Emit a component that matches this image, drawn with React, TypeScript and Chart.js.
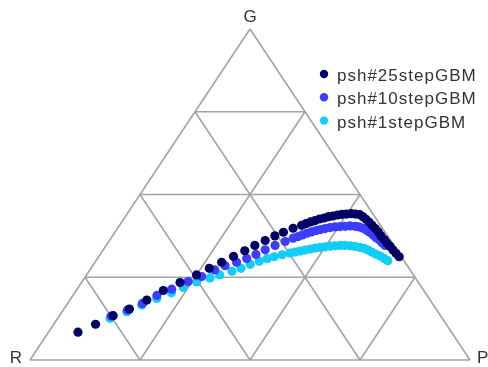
import { useEffect, useRef } from 'react';
import { Chart, registerables } from 'chart.js';

Chart.register(...registerables);

// Ternary compositions in percent: G (top vertex) and P (right vertex); R = 100 - G - P
const seriesNames = ['psh#25stepGBM', 'psh#10stepGBM', 'psh#1stepGBM'];
const seriesColors = ['#000066', '#3d3dff', '#12cdf6'];
const vertexLabels = ['R', 'G', 'P'];
const gridLevels = [25, 50, 75];

const gVals25 = [8.4, 10.8, 13.4, 15.4, 18.1, 21.0, 23.4, 25.7, 27.7, 29.5, 31.3, 33.0, 34.6, 36.1, 37.5, 38.6, 39.8, 40.7, 41.2, 41.7, 42.1, 42.6, 42.9, 43.3, 43.5, 43.8, 44.0, 44.1, 44.2, 44.1, 43.9, 43.3, 42.5, 41.6, 40.7, 39.7, 38.7, 37.5, 36.4, 35.3, 34.3, 33.2, 32.2, 31.2];
const pVals25 = [6.7, 9.5, 12.2, 14.9, 17.5, 19.8, 22.4, 25.0, 26.9, 28.8, 30.6, 32.3, 33.8, 35.4, 36.9, 38.3, 39.9, 41.4, 42.1, 42.9, 43.7, 44.5, 45.4, 46.2, 47.1, 48.0, 48.9, 49.9, 50.9, 51.9, 53.0, 54.0, 55.1, 56.3, 57.4, 58.6, 59.8, 61.0, 62.3, 63.5, 64.7, 65.9, 67.1, 68.3];

const gVals10 = [13.3, 15.1, 17.1, 19.5, 21.4, 23.7, 25.2, 27.2, 28.5, 29.5, 30.7, 31.9, 33.3, 34.6, 35.8, 36.8, 37.3, 37.8, 38.3, 38.7, 39.1, 39.4, 39.7, 40.0, 40.2, 40.3, 40.4, 40.5, 40.4, 40.2, 39.8, 39.2, 38.5, 37.8, 37.0, 36.3, 35.4, 34.6];
const pVals10 = [11.8, 14.6, 17.0, 19.1, 21.5, 24.1, 26.4, 28.4, 30.1, 32.2, 33.9, 35.4, 36.8, 38.4, 40.1, 41.4, 42.3, 43.0, 43.8, 44.6, 45.5, 46.3, 47.2, 48.2, 49.2, 50.3, 51.4, 52.5, 53.7, 54.7, 55.8, 56.9, 58.0, 59.1, 60.1, 61.2, 62.3, 63.4];

const gVals1 = [12.6, 14.6, 16.6, 18.6, 20.3, 21.9, 23.6, 24.8, 25.7, 26.8, 27.7, 28.9, 29.8, 30.6, 31.2, 31.8, 32.3, 32.6, 32.9, 33.2, 33.5, 33.8, 34.0, 34.2, 34.4, 34.5, 34.6, 34.6, 34.5, 34.3, 34.0, 33.7, 33.2, 32.6, 32.0, 31.4, 30.7, 30.0];
const pVals1 = [11.9, 14.7, 17.1, 19.5, 22.0, 23.9, 26.1, 28.5, 30.3, 32.5, 34.1, 35.6, 37.2, 38.6, 39.9, 41.4, 42.9, 43.9, 44.9, 45.9, 46.9, 47.9, 48.9, 50.0, 51.0, 52.1, 53.2, 54.3, 55.5, 56.7, 58.0, 59.1, 60.2, 61.4, 62.6, 63.9, 65.1, 66.3];

// ternary (P, G) -> cartesian chart values
const proj = (p: number, g: number) => ({ x: p + g / 2, y: g });
const toPoints = (gs: number[], ps: number[]) => gs.map((g, i) => proj(ps[i], g));

const FONT = '"Liberation Sans", Arial, sans-serif';

const ternaryGrid = {
  id: 'ternaryGrid',
  beforeDatasetsDraw(chart: any) {
    const { ctx, scales } = chart;
    const xs = scales.x;
    const ys = scales.y;
    const px = (pt: { x: number; y: number }) => [xs.getPixelForValue(pt.x), ys.getPixelForValue(pt.y)];
    const line = (a: { x: number; y: number }, b: { x: number; y: number }) => {
      const [x1, y1] = px(a);
      const [x2, y2] = px(b);
      ctx.moveTo(x1, y1);
      ctx.lineTo(x2, y2);
    };
    ctx.save();
    ctx.strokeStyle = '#a3a3a3';
    ctx.lineWidth = 1.6;
    ctx.beginPath();
    line(proj(0, 0), proj(100, 0));
    line(proj(100, 0), proj(0, 100));
    line(proj(0, 100), proj(0, 0));
    gridLevels.forEach((k) => {
      line(proj(0, k), proj(100 - k, k)); // constant G
      line(proj(k, 0), proj(k, 100 - k)); // constant P
      line(proj(100 - k, 0), proj(0, 100 - k)); // constant R
    });
    ctx.stroke();

    ctx.fillStyle = '#333333';
    ctx.font = `17px ${FONT}`;
    ctx.textBaseline = 'alphabetic';
    const [rx, ry] = px(proj(0, 0));
    const [gx, gy] = px(proj(0, 100));
    const [ppx, ppy] = px(proj(100, 0));
    ctx.textAlign = 'right';
    ctx.fillText(vertexLabels[0], rx - 8, ry + 3);
    ctx.textAlign = 'center';
    ctx.fillText(vertexLabels[1], gx, gy - 7);
    ctx.textAlign = 'left';
    ctx.fillText(vertexLabels[2], ppx + 7, ppy + 3);
    ctx.restore();
  },
};

const ternaryLegend = {
  id: 'ternaryLegend',
  afterDraw(chart: any) {
    const { ctx } = chart;
    ctx.save();
    ctx.font = `17px ${FONT}`;
    try { (ctx as any).letterSpacing = '1px'; } catch (e) { /* ignore */ }
    ctx.textAlign = 'left';
    ctx.textBaseline = 'alphabetic';
    chart.data.datasets.forEach((ds: any, i: number) => {
      const y = 74 + i * 23.3;
      ctx.fillStyle = ds.backgroundColor;
      ctx.beginPath();
      ctx.arc(324, y, 4.2, 0, Math.PI * 2);
      ctx.fill();
      ctx.fillStyle = '#333333';
      ctx.fillText(ds.label, 337, y + 7);
    });
    ctx.restore();
  },
};

export default function App() {
  const canvasRef = useRef<HTMLCanvasElement | null>(null);

  useEffect(() => {
    document.body.style.margin = '0';
    const canvas = canvasRef.current;
    if (!canvas) return;
    const seriesData = [toPoints(gVals25, pVals25), toPoints(gVals10, pVals10), toPoints(gVals1, pVals1)];
    const chart = new Chart(canvas, {
      type: 'scatter',
      data: {
        datasets: seriesNames.map((name, i) => ({
          label: name,
          data: seriesData[i],
          backgroundColor: seriesColors[i],
          borderColor: seriesColors[i],
          pointRadius: 4.6,
          pointBorderWidth: 0,
          pointHoverRadius: 4.6,
          clip: false as any,
        })),
      },
      options: {
        animation: false,
        responsive: false,
        layout: { padding: { left: 30, right: 18, top: 29, bottom: 7 } },
        scales: {
          x: { type: 'linear', min: 0, max: 100, display: false },
          y: { type: 'linear', min: 0, max: 100, display: false },
        },
        plugins: {
          legend: { display: false },
          tooltip: { enabled: false },
        },
      },
      plugins: [ternaryGrid, ternaryLegend],
    });
    return () => chart.destroy();
  }, []);

  return (
    <div style={{ width: 488, height: 367 }}>
      <canvas ref={canvasRef} width={488} height={367} style={{ display: 'block' }} />
    </div>
  );
}
